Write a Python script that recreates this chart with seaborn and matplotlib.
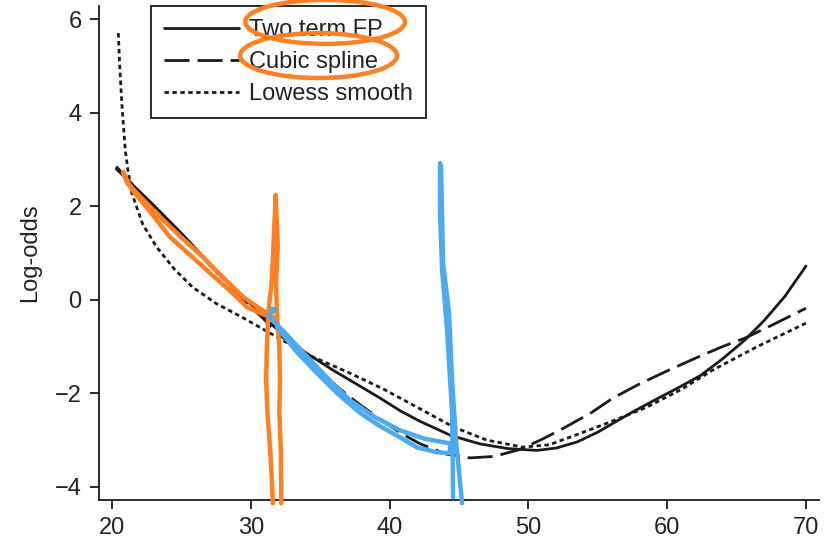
import matplotlib
matplotlib.use("Agg")
import matplotlib.pyplot as plt
import seaborn as sns
from matplotlib.patches import Ellipse

# ---- data ----
fp_x = [20.3, 21.5, 23.0, 25.0, 27.1, 29.0, 31.4, 33.0, 34.0, 36.0, 37.15, 39.3, 40.8, 42.2, 44.4,
        46.5, 48.5, 50.6, 52.0, 53.5, 55.0, 56.1, 57.5, 59.0, 60.8, 62.4, 64.0, 65.6, 67.0, 68.5, 70.0]
fp_y = [2.80, 2.45, 2.02, 1.42, 0.75, 0.20, -0.50, -0.92, -1.14, -1.52, -1.72, -2.10, -2.38, -2.60, -2.90,
        -3.08, -3.18, -3.22, -3.17, -3.04, -2.83, -2.64, -2.40, -2.16, -1.88, -1.62, -1.26, -0.86, -0.44, 0.08, 0.72]

cs_x = [20.3, 21.5, 23.0, 25.0, 27.1, 29.0, 31.4, 33.0, 34.5, 36.0, 37.0, 37.9, 39.3, 40.8, 42.2, 44.1,
        45.8, 47.5, 49.4, 51.0, 52.5, 54.5, 56.1, 58.0, 60.0, 62.4, 64.0, 65.6, 67.5, 70.0]
cs_y = [2.85, 2.45, 2.00, 1.40, 0.72, 0.15, -0.55, -1.00, -1.40, -1.80, -2.05, -2.25, -2.55, -2.85, -3.08, -3.30,
        -3.38, -3.35, -3.20, -2.98, -2.75, -2.42, -2.10, -1.80, -1.52, -1.20, -1.00, -0.82, -0.55, -0.18]

lo_x = [20.45, 20.55, 20.7, 20.85, 20.95, 21.15, 21.42, 22.2, 23.2, 24.5, 25.8, 27.5, 29.4, 31.9, 34.3,
        37.0, 39.5, 42.0, 44.6, 47.0, 49.6, 51.5, 53.7, 56.0, 58.5, 61.0, 63.3, 66.5, 70.0]
lo_y = [5.70, 5.00, 4.20, 3.60, 3.20, 2.75, 2.28, 1.62, 1.13, 0.65, 0.27, -0.08, -0.38, -0.80, -1.20,
        -1.55, -1.90, -2.30, -2.72, -3.00, -3.15, -3.10, -2.86, -2.60, -2.30, -1.92, -1.50, -1.00, -0.50]

labels = ["Two term FP", "Cubic spline", "Lowess smooth"]
x_ticks = [20, 30, 40, 50, 60, 70]
y_ticks = [-4, -2, 0, 2, 4, 6]

# hand-drawn annotation strokes (data units)
orange_curve_x = [20.79, 21.08, 22.3, 23.46, 25.0, 26.56, 28.0, 29.44, 30.6, 31.60, 31.89,
                  30.8, 29.73, 28.4, 27.06, 25.6, 24.18, 22.8, 21.44, 20.79]
orange_curve_y = [2.73, 2.50, 2.12, 1.77, 1.33, 0.91, 0.47, 0.06, -0.18, -0.37, -0.43,
                  -0.30, -0.16, 0.22, 0.57, 0.96, 1.34, 1.86, 2.35, 2.73]
orange_vert_x = [32.18, 32.18, 32.15, 32.05, 32.10, 32.05, 31.87, 31.82, 31.94, 31.79,
                 31.62, 31.51, 31.26, 31.15, 31.10, 31.19, 31.38, 31.51, 31.58]
orange_vert_y = [-4.35, -3.86, -3.15, -2.42, -1.72, -1.01, -0.28, 0.42, 1.13, 2.24,
                 1.13, 0.42, -0.28, -1.01, -1.72, -2.42, -3.15, -3.86, -4.35]
blue_curve_x = [31.24, 31.38, 33.0, 34.77, 36.0, 37.15, 39.0, 40.75, 42.5, 44.35,
                44.35, 43.42, 42.0, 40.75, 39.3, 37.87, 36.3, 34.77, 33.2, 31.89]
blue_curve_y = [-0.33, -0.37, -0.88, -1.44, -1.82, -2.15, -2.52, -2.79, -2.97, -3.07,
                -3.28, -3.26, -3.16, -2.94, -2.70, -2.42, -2.02, -1.57, -1.08, -0.58]
blue_vert_x = [44.57, 44.50, 44.14, 43.78, 43.63, 43.63, 43.70, 43.85, 44.28, 44.50, 44.78, 45.22]
blue_vert_y = [-4.22, -2.42, -0.65, 0.64, 1.85, 2.92, 2.85, 0.79, -0.28, -1.72, -3.00, -4.35]
blue_dot_x = [31.53]
blue_dot_y = [-0.22]

# ---- style ----
sns.set_style("ticks")
plt.rcParams["font.family"] = ["Liberation Sans", "DejaVu Sans"]
ink = "#1a1a1a"
txt = "#222222"
orange = "#ff7f22"
blue = "#4eaaf0"
fs = 17

fig = plt.figure(figsize=(8.33, 5.43), dpi=100)
ax = fig.add_axes([0.1189, 0.0792, 0.8643, 0.9098])

lw = 2.0
sns.lineplot(x=fp_x, y=fp_y, ax=ax, color=ink, lw=lw, sort=False, estimator=None,
             label=labels[0])
sns.lineplot(x=cs_x, y=cs_y, ax=ax, color=ink, lw=lw, sort=False, estimator=None,
             linestyle=(0, (9, 2.9)), label=labels[1])
sns.lineplot(x=lo_x, y=lo_y, ax=ax, color=ink, lw=lw, sort=False, estimator=None,
             linestyle=(0, (1.6, 1.25)), label=labels[2])

ax.set_xlim(19.06, 70.94)
ax.set_ylim(-4.28, 6.28)
ax.set_xticks(x_ticks)
ax.set_yticks(y_ticks)
for s in ["top", "right"]:
    ax.spines[s].set_visible(False)
for s in ["left", "bottom"]:
    ax.spines[s].set_linewidth(1.3)
    ax.spines[s].set_color(ink)
ax.tick_params(axis="both", length=6.5, width=1.3, color=ink, labelsize=fs,
               labelcolor=txt, pad=6)
ax.set_xlabel("")
ax.set_ylabel("Log-odds", fontsize=fs, color=txt, labelpad=10)

leg = ax.legend(loc="upper left", bbox_to_anchor=(0.072, 1.0), borderaxespad=0,
                frameon=True, fancybox=False, edgecolor=ink, framealpha=1,
                fontsize=fs, handlelength=3.2, handletextpad=0.4,
                borderpad=0.55, labelspacing=0.42)
leg.get_frame().set_linewidth(1.3)
for t in leg.get_texts():
    t.set_color(txt)

# ---- annotations ----
akw = dict(lw=3.2, solid_capstyle="round", solid_joinstyle="round", clip_on=False, zorder=8)
ax.plot(orange_curve_x, orange_curve_y, color=orange, **akw)
ax.plot(orange_vert_x, orange_vert_y, color=orange, **akw)
ax.plot(blue_curve_x, blue_curve_y, color=blue, **akw)
ax.plot(blue_vert_x, blue_vert_y, color=blue, **akw)
ax.plot(blue_dot_x, blue_dot_y, "o", ms=4.5, color=blue, clip_on=False, zorder=8)
ax.add_patch(Ellipse((35.35, 5.94), 11.5, 0.94, fill=False, ec=orange, lw=3.2,
                     clip_on=False, zorder=9))
ax.add_patch(Ellipse((34.88, 5.22), 11.3, 0.96, fill=False, ec=orange, lw=3.2,
                     clip_on=False, zorder=9))

fig.savefig("out.png", dpi=100)
